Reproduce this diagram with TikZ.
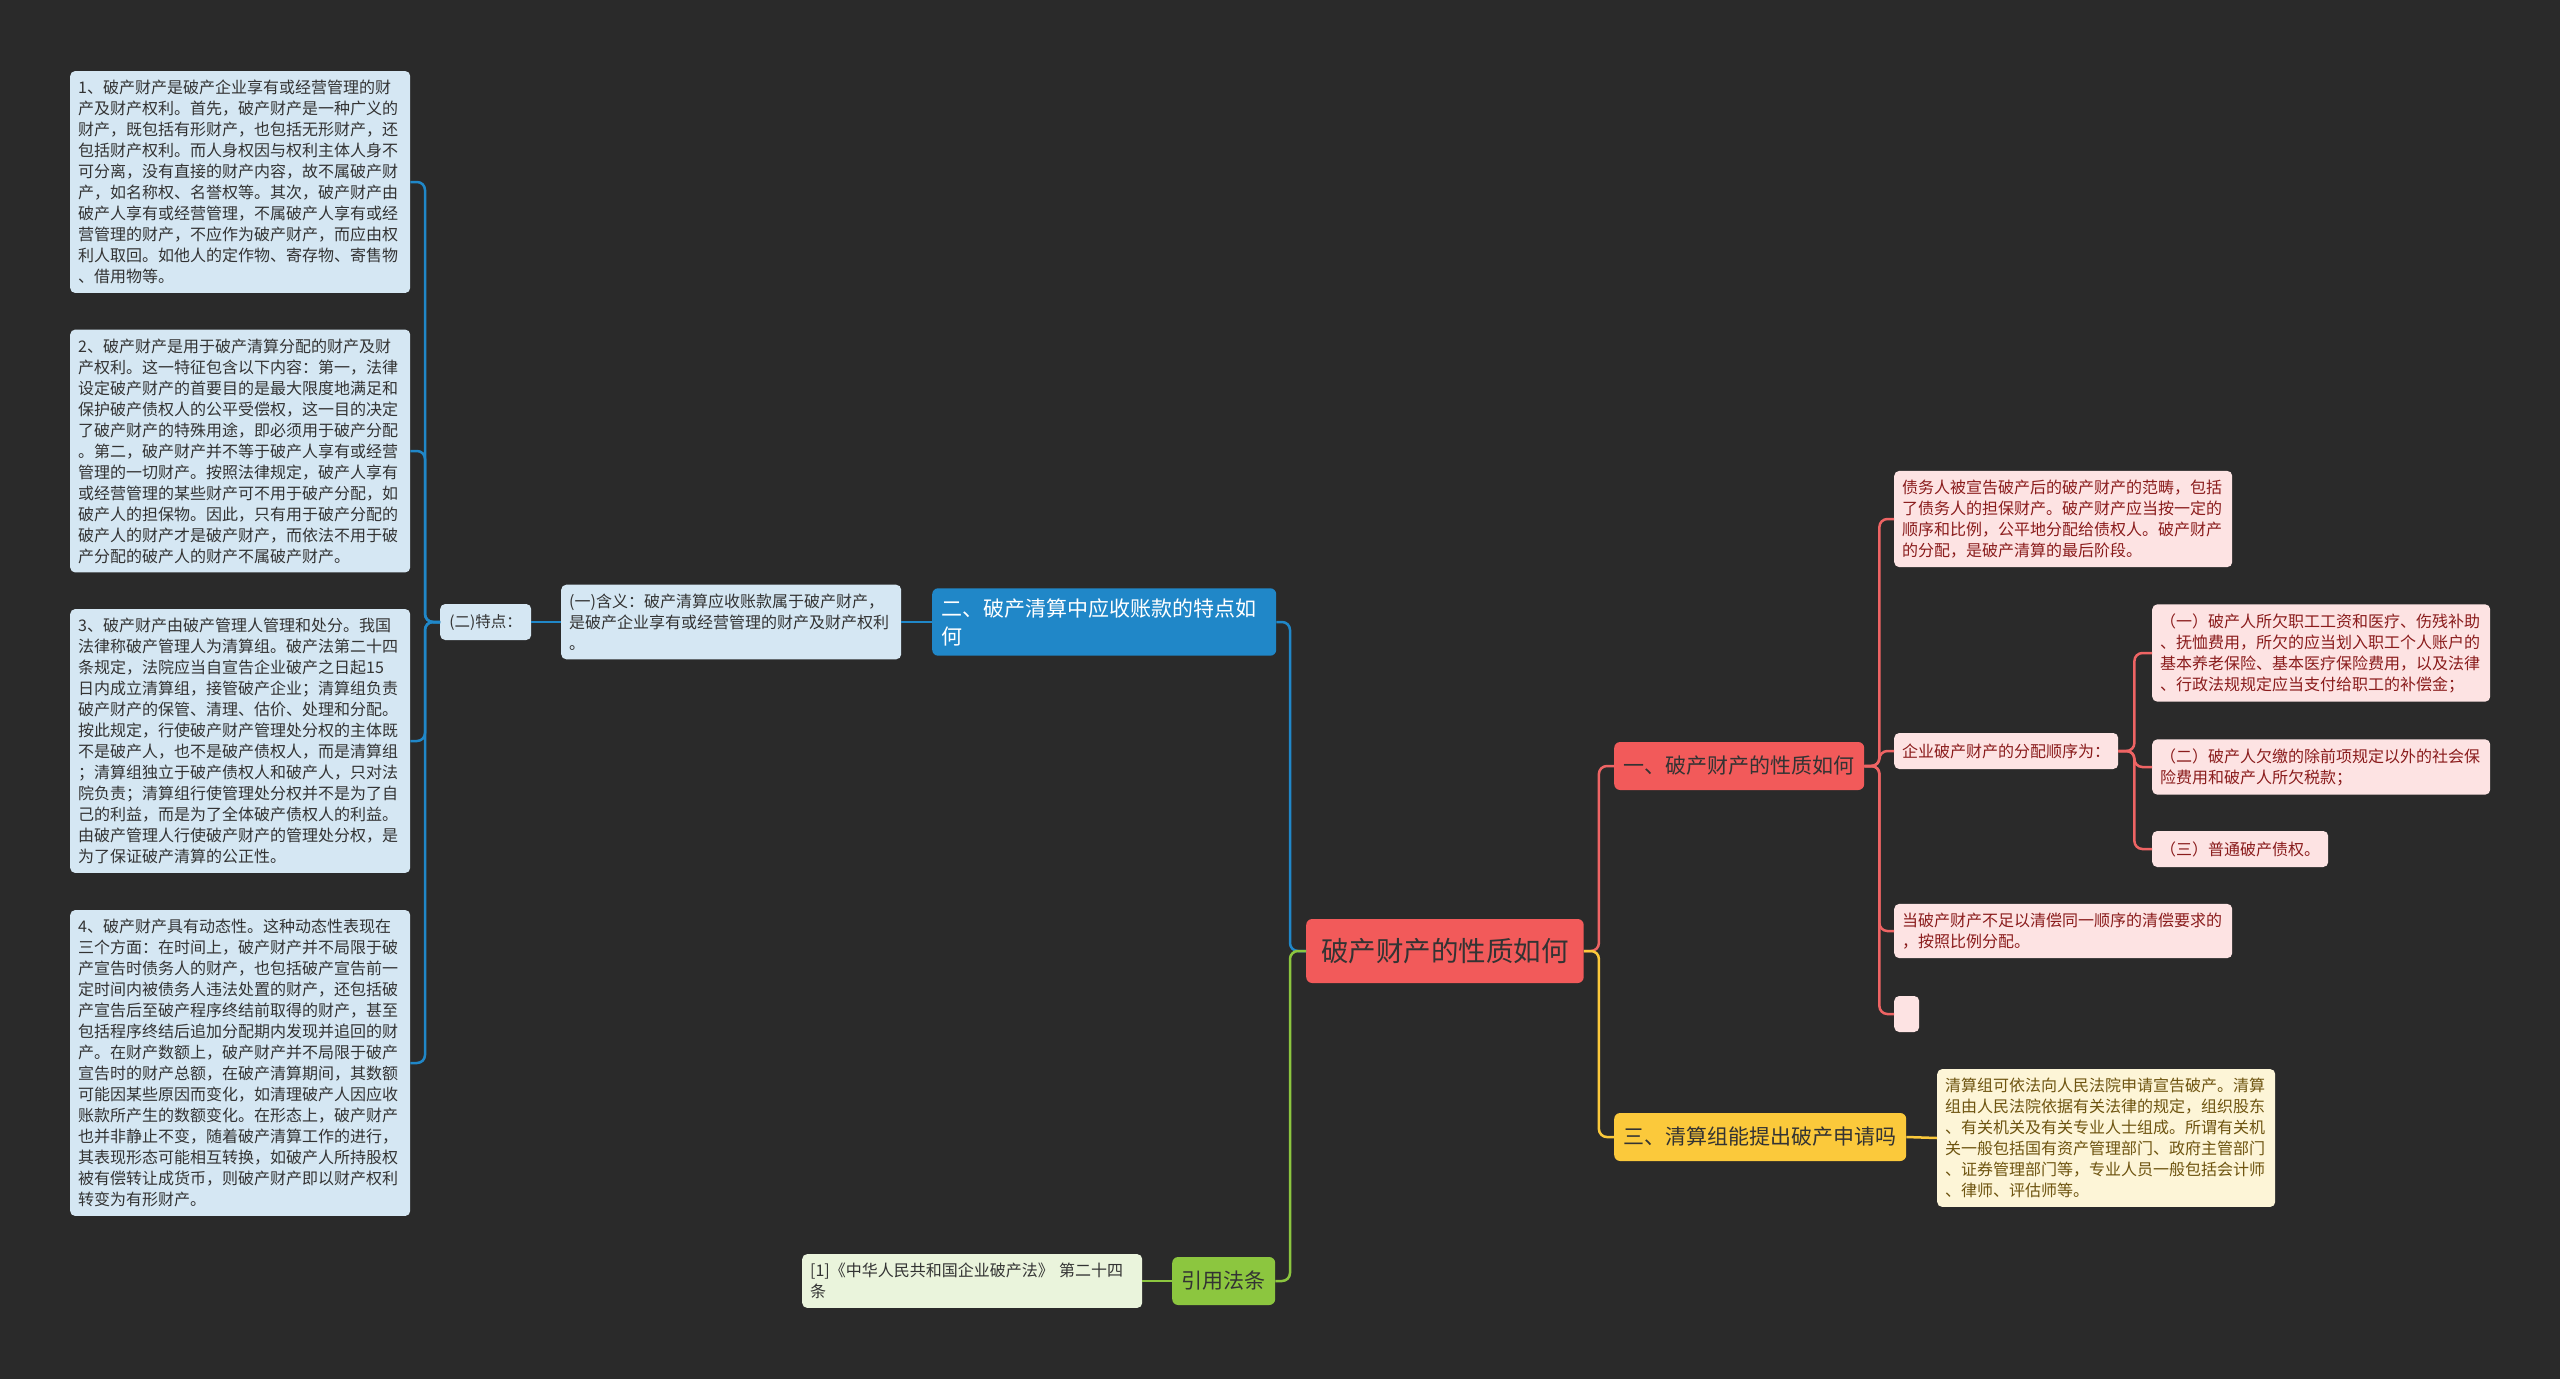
\documentclass[tikz,border=0pt]{standalone}
\usepackage{fontspec}
\setmainfont{Noto Sans CJK SC}
\usepackage{xcolor}
\usepackage{tikz}
\definecolor{bgDark}{HTML}{2A2A2A}
\definecolor{mapBlue}{HTML}{2087C8}
\definecolor{leafBlue}{HTML}{D5E7F3}
\definecolor{mapRed}{HTML}{F25A5A}
\definecolor{lineRed}{HTML}{EE6464}
\definecolor{leafPink}{HTML}{FDE3E3}
\definecolor{textRed}{HTML}{8A1C1C}
\definecolor{mapYellow}{HTML}{FBC93B}
\definecolor{leafCream}{HTML}{FDF5D7}
\definecolor{textOlive}{HTML}{6E5410}
\definecolor{mapGreen}{HTML}{8CC63F}
\definecolor{leafGreen}{HTML}{EAF4DC}
\definecolor{textDark}{HTML}{333333}
\newcommand{\fsz}[2]{\fontsize{#1pt}{#2pt}\selectfont}

\begin{document}
\begin{tikzpicture}[
    x=1pt,y=-1pt,
    box/.style={rectangle,rounded corners=5pt,align=left,
                inner xsep=8pt,inner ysep=9pt,font=\fsz{16}{21}},
    bleaf/.style={box,fill=leafBlue,text=textDark,text width=324pt},
    pleaf/.style={box,fill=leafPink,text=textRed},
    topic/.style={rectangle,rounded corners=6pt,font=\fsz{21}{28},
                  inner xsep=9.5pt,minimum height=48pt},
    blink/.style={mapBlue,line width=2.5pt,rounded corners=8pt},
    rlink/.style={lineRed,line width=2.5pt,rounded corners=8pt},
    ylink/.style={mapYellow,line width=2.5pt,rounded corners=8pt},
    glink/.style={mapGreen,line width=2.5pt,rounded corners=8pt}
  ]
  \useasboundingbox[fill=bgDark] (0,0) rectangle (2560,1379);
  %% Root
  \node[topic,fill=mapRed,text=textDark,font=\fsz{27.5}{32},inner xsep=15pt,
        minimum height=64pt,anchor=west] (root) at (1306,951) {破产财产的性质如何};
  %% Left branch: receivables
  \node[topic,fill=mapBlue,text=white,align=left,text width=326pt,inner xsep=9pt,
        inner ysep=10pt,anchor=west] (sec2) at (932,622)
        {二、破产清算中应收账款的特点如\\何};
  \node[box,fill=leafBlue,text=textDark,text width=324pt,anchor=west] (meaning) at (561,622)
        {(一)含义：破产清算应收账款属于破产财产，\\是破产企业享有或经营管理的财产及财产权利\\。};
  \node[box,fill=leafBlue,text=textDark,font=\fsz{15.5}{20},inner xsep=6pt,
        minimum width=91pt,minimum height=36pt,anchor=west] (feat) at (440,622) {(二)特点：};
  \node[bleaf,anchor=west] (f1) at (70,182)
        {1、破产财产是破产企业享有或经营管理的财\\产及财产权利。首先，破产财产是一种广义的\\财产，既包括有形财产，也包括无形财产，还\\包括财产权利。而人身权因与权利主体人身不\\可分离，没有直接的财产内容，故不属破产财\\产，如名称权、名誉权等。其次，破产财产由\\破产人享有或经营管理，不属破产人享有或经\\营管理的财产，不应作为破产财产，而应由权\\利人取回。如他人的定作物、寄存物、寄售物\\、借用物等。};
  \node[bleaf,anchor=west] (f2) at (70,451)
        {2、破产财产是用于破产清算分配的财产及财\\产权利。这一特征包含以下内容：第一，法律\\设定破产财产的首要目的是最大限度地满足和\\保护破产债权人的公平受偿权，这一目的决定\\了破产财产的特殊用途，即必须用于破产分配\\。第二，破产财产并不等于破产人享有或经营\\管理的一切财产。按照法律规定，破产人享有\\或经营管理的某些财产可不用于破产分配，如\\破产人的担保物。因此，只有用于破产分配的\\破产人的财产才是破产财产，而依法不用于破\\产分配的破产人的财产不属破产财产。};
  \node[bleaf,anchor=west] (f3) at (70,741)
        {3、破产财产由破产管理人管理和处分。我国\\法律称破产管理人为清算组。破产法第二十四\\条规定，法院应当自宣告企业破产之日起15\\日内成立清算组，接管破产企业；清算组负责\\破产财产的保管、清理、估价、处理和分配。\\按此规定，行使破产财产管理处分权的主体既\\不是破产人，也不是破产债权人，而是清算组\\；清算组独立于破产债权人和破产人，只对法\\院负责；清算组行使管理处分权并不是为了自\\己的利益，而是为了全体破产债权人的利益。\\由破产管理人行使破产财产的管理处分权，是\\为了保证破产清算的公正性。};
  \node[bleaf,anchor=west] (f4) at (70,1063)
        {4、破产财产具有动态性。这种动态性表现在\\三个方面：在时间上，破产财产并不局限于破\\产宣告时债务人的财产，也包括破产宣告前一\\定时间内被债务人违法处置的财产，还包括破\\产宣告后至破产程序终结前取得的财产，甚至\\包括程序终结后追加分配期内发现并追回的财\\产。在财产数额上，破产财产并不局限于破产\\宣告时的财产总额，在破产清算期间，其数额\\可能因某些原因而变化，如清理破产人因应收\\账款所产生的数额变化。在形态上，破产财产\\也并非静止不变，随着破产清算工作的进行，\\其表现形态可能相互转换，如破产人所持股权\\被有偿转让成货币，则破产财产即以财产权利\\转变为有形财产。};
  %% Left branch: cited law
  \node[topic,fill=mapGreen,text=textDark,anchor=west] (law) at (1172,1281) {引用法条};
  \node[box,fill=leafGreen,text=textDark,text width=324pt,anchor=west] (lawref) at (802,1281)
        {[1]《中华人民共和国企业破产法》 第二十四\\条};
  %% Right branch: nature
  \node[topic,fill=mapRed,text=textDark,anchor=west] (sec1) at (1614,766) {一、破产财产的性质如何};
  \node[pleaf,text width=322pt,anchor=west] (scope) at (1894,519)
        {债务人被宣告破产后的破产财产的范畴，包括\\了债务人的担保财产。破产财产应当按一定的\\顺序和比例，公平地分配给债权人。破产财产\\的分配，是破产清算的最后阶段。};
  \node[pleaf,minimum height=36pt,anchor=west] (order) at (1894,751) {企业破产财产的分配顺序为：};
  \node[pleaf,text width=322pt,anchor=west] (prorata) at (1894,931)
        {当破产财产不足以清偿同一顺序的清偿要求的\\，按照比例分配。};
  \node[pleaf,minimum width=25pt,minimum height=36pt,inner xsep=0pt,anchor=west] (blank) at (1894,1014) {};
  \node[pleaf,text width=322pt,anchor=west] (ord1) at (2152,653)
        {（一）破产人所欠职工工资和医疗、伤残补助\\、抚恤费用，所欠的应当划入职工个人账户的\\基本养老保险、基本医疗保险费用，以及法律\\、行政法规规定应当支付给职工的补偿金；};
  \node[pleaf,text width=322pt,anchor=west] (ord2) at (2152,767)
        {（二）破产人欠缴的除前项规定以外的社会保\\险费用和破产人所欠税款；};
  \node[pleaf,minimum height=36pt,anchor=west] (ord3) at (2152,849) {（三）普通破产债权。};
  %% Right branch: liquidation group
  \node[topic,fill=mapYellow,text=textDark,anchor=west] (sec3) at (1614,1137) {三、清算组能提出破产申请吗};
  \node[box,fill=leafCream,text=textOlive,text width=322pt,anchor=west] (group) at (1937,1138)
        {清算组可依法向人民法院申请宣告破产。清算\\组由人民法院依据有关法律的规定，组织股东\\、有关机关及有关专业人士组成。所谓有关机\\关一般包括国有资产管理部门、政府主管部门\\、证券管理部门等，专业人员一般包括会计师\\、律师、评估师等。};
  %% Connectors
  \draw[blink] (root.west) -- ++(-16,0) |- (sec2.east);
  \draw[glink] (root.west) -- ++(-16,0) |- (law.east);
  \draw[blink] (sec2.west) -- (meaning.east);
  \draw[blink] (meaning.west) -- (feat.east);
  \foreach \f in {f1,f2,f3,f4}
    \draw[blink] (feat.west) -- ++(-15,0) |- (\f.east);
  \draw[glink] (law.west) -- (lawref.east);
  \draw[rlink] (root.east) -- ++(15,0) |- (sec1.west);
  \draw[ylink] (root.east) -- ++(15,0) |- (sec3.west);
  \foreach \c in {scope,order,prorata,blank}
    \draw[rlink] (sec1.east) -- ++(15,0) |- (\c.west);
  \foreach \c in {ord1,ord2,ord3}
    \draw[rlink] (order.east) -- ++(16,0) |- (\c.west);
  \draw[ylink] (sec3.east) -- (group.west);
\end{tikzpicture}
\end{document}
